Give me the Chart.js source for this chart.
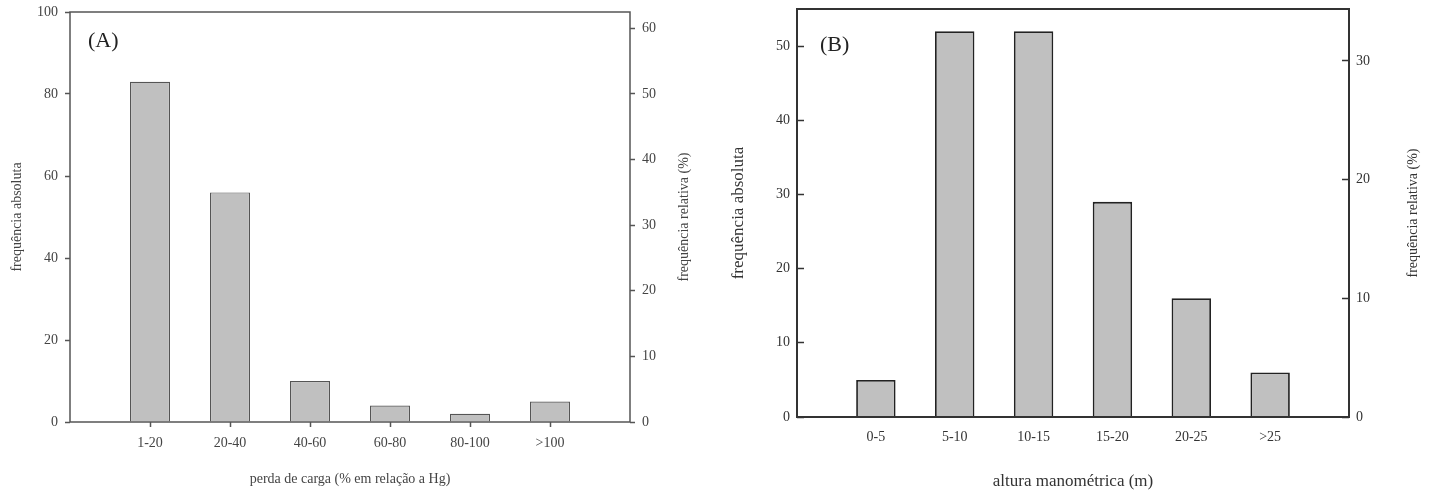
<!DOCTYPE html>
<html>
<head>
<meta charset="utf-8">
<script src="https://cdn.jsdelivr.net/npm/chart.js@4"></script>
<style>
  html, body { margin: 0; padding: 0; background: #fff; }
  .panel { position: absolute; top: 0; }
</style>
</head>
<body>
<div class="panel" style="left:0"><canvas id="chartA" width="720" height="492"></canvas></div>
<div class="panel" style="left:720px"><canvas id="chartB" width="719" height="492"></canvas></div>
<script>
// --- dados do painel A ---
const categoriasA = ['1-20', '20-40', '40-60', '60-80', '80-100', '>100'];
const absolutaA = [83, 56, 10, 4, 2, 5];
const ticksEsqA = [0, 20, 40, 60, 80, 100];
const ticksDirA = [0, 10, 20, 30, 40, 50, 60];

// --- dados do painel B ---
const categoriasB = ['0-5', '5-10', '10-15', '15-20', '20-25', '>25'];
const absolutaB = [5, 52, 52, 29, 16, 6];
const ticksEsqB = [0, 10, 20, 30, 40, 50];
const ticksDirB = [0, 10, 20, 30];

const serif = '"Liberation Serif", "DejaVu Serif", serif';

// moldura + título do eixo direito + rótulo do painel
const extras = {
    id: 'extras',
    afterDraw(chart, args, opts) {
        const { ctx, chartArea } = chart;
        ctx.save();
        ctx.strokeStyle = opts.frameColor;
        ctx.lineWidth = opts.frameWidth;
        ctx.strokeRect(chartArea.left, chartArea.top, chartArea.right - chartArea.left, chartArea.bottom - chartArea.top);

        ctx.fillStyle = opts.textColor;
        ctx.font = opts.rightTitleSize + 'px ' + serif;
        ctx.textAlign = 'center';
        ctx.textBaseline = 'middle';
        ctx.translate(chartArea.right + opts.rightTitleOffset, (chartArea.top + chartArea.bottom) / 2);
        ctx.rotate(-Math.PI / 2);
        ctx.fillText(opts.rightTitle, 0, 0);
        ctx.restore();

        ctx.save();
        ctx.fillStyle = '#222';
        ctx.font = '22px ' + serif;
        ctx.textBaseline = 'middle';
        ctx.fillText(opts.label, opts.labelX, opts.labelY);
        ctx.restore();
    }
};

function semPadding(s) {
    s.paddingTop = 0; s.paddingBottom = 0; s.paddingLeft = 0; s.paddingRight = 0;
}

function montar(id, cfg) {
    const pontos = cfg.valores.map((v, i) => ({ x: i + 1, y: v }));
    const total = cfg.valores.reduce((a, b) => a + b, 0);
    new Chart(document.getElementById(id).getContext('2d'), {
        type: 'bar',
        data: {
            datasets: [{
                data: pontos,
                backgroundColor: '#c0c0c0',
                borderColor: cfg.barBorder,
                borderWidth: cfg.barBorderWidth,
                barPercentage: 0.5,
                categoryPercentage: 1,
                yAxisID: 'y'
            }]
        },
        options: {
            responsive: false,
            animation: false,
            layout: { padding: { top: cfg.top, left: 0, right: 0, bottom: 0 } },
            plugins: {
                legend: { display: false },
                tooltip: { enabled: false },
                extras: {
                    frameColor: cfg.frameColor, frameWidth: cfg.frameWidth, textColor: cfg.textColor,
                    rightTitle: 'frequência relativa (%)', rightTitleSize: 14, rightTitleOffset: cfg.rightTitleOffset,
                    label: cfg.label, labelX: cfg.labelX, labelY: cfg.labelY
                }
            },
            scales: {
                x: {
                    type: 'linear', min: 0, max: 7, position: 'bottom', offset: false,
                    afterBuildTicks: s => { s.ticks = cfg.categorias.map((c, i) => ({ value: i + 1 })); },
                    afterFit: s => { s.height = cfg.xHeight; semPadding(s); },
                    ticks: {
                        callback: v => cfg.categorias[v - 1],
                        font: { family: serif, size: 14 }, color: cfg.textColor,
                        padding: cfg.xPad, maxRotation: 0
                    },
                    grid: { offset: false, drawOnChartArea: false, drawTicks: cfg.xTicks, tickLength: 5, color: cfg.frameColor, tickWidth: 1.5 },
                    border: { display: false },
                    title: {
                        display: true, text: cfg.xTitle, color: cfg.textColor,
                        font: { family: serif, size: cfg.xTitleSize }, padding: { top: 12, bottom: cfg.xTitleBottom }
                    }
                },
                y: {
                    position: 'left', min: 0, max: cfg.maxEsq,
                    afterBuildTicks: s => { s.ticks = cfg.ticksEsq.map(v => ({ value: v })); },
                    afterFit: s => { s.width = cfg.leftWidth; semPadding(s); },
                    ticks: { font: { family: serif, size: 14 }, color: cfg.textColor, padding: cfg.yPad },
                    grid: { drawOnChartArea: false, tickLength: cfg.yTick, color: cfg.frameColor, tickWidth: 1.5 },
                    border: { display: false },
                    title: {
                        display: true, text: 'frequência absoluta', color: cfg.textColor,
                        font: { family: serif, size: cfg.yTitleSize }, padding: { top: cfg.yTitlePad, bottom: 0 }
                    }
                },
                y2: {
                    position: 'right', min: 0, max: cfg.maxEsq / total * 100,
                    afterBuildTicks: s => { s.ticks = cfg.ticksDir.map(v => ({ value: v })); },
                    afterFit: s => { s.width = cfg.rightWidth; semPadding(s); },
                    ticks: { font: { family: serif, size: 14 }, color: cfg.textColor, padding: cfg.yPad },
                    grid: { drawOnChartArea: false, tickLength: cfg.yTick, color: cfg.frameColor, tickWidth: 1.5 },
                    border: { display: false }
                }
            }
        },
        plugins: [extras]
    });
}

document.addEventListener('DOMContentLoaded', function () {
    // --- Painel A: perda de carga ---
    montar('chartA', {
        categorias: categoriasA, valores: absolutaA, ticksEsq: ticksEsqA, ticksDir: ticksDirA,
        maxEsq: 100, top: 12, leftWidth: 70, rightWidth: 90, xHeight: 70,
        barBorder: '#555', barBorderWidth: 1.2, frameColor: '#555', frameWidth: 1.5, textColor: '#444',
        xTicks: true, xPad: 8, yTick: 5, yPad: 7,
        xTitle: 'perda de carga (% em relação a Hg)', xTitleSize: 14, xTitleBottom: 4,
        yTitleSize: 14, yTitlePad: 9, rightTitleOffset: 54,
        label: '(A)', labelX: 88, labelY: 41
    });

    // --- Painel B: altura manométrica ---
    montar('chartB', {
        categorias: categoriasB, valores: absolutaB, ticksEsq: ticksEsqB, ticksDir: ticksDirB,
        maxEsq: 55, top: 9, leftWidth: 77, rightWidth: 90, xHeight: 75,
        barBorder: '#222', barBorderWidth: 1.8, frameColor: '#333', frameWidth: 2, textColor: '#333',
        xTicks: false, xPad: 12, yTick: -7, yPad: 14,
        xTitle: 'altura manométrica (m)', xTitleSize: 17, xTitleBottom: 0,
        yTitleSize: 17, yTitlePad: 8, rightTitleOffset: 64,
        label: '(B)', labelX: 100, labelY: 45
    });
});
</script>
</body>
</html>
